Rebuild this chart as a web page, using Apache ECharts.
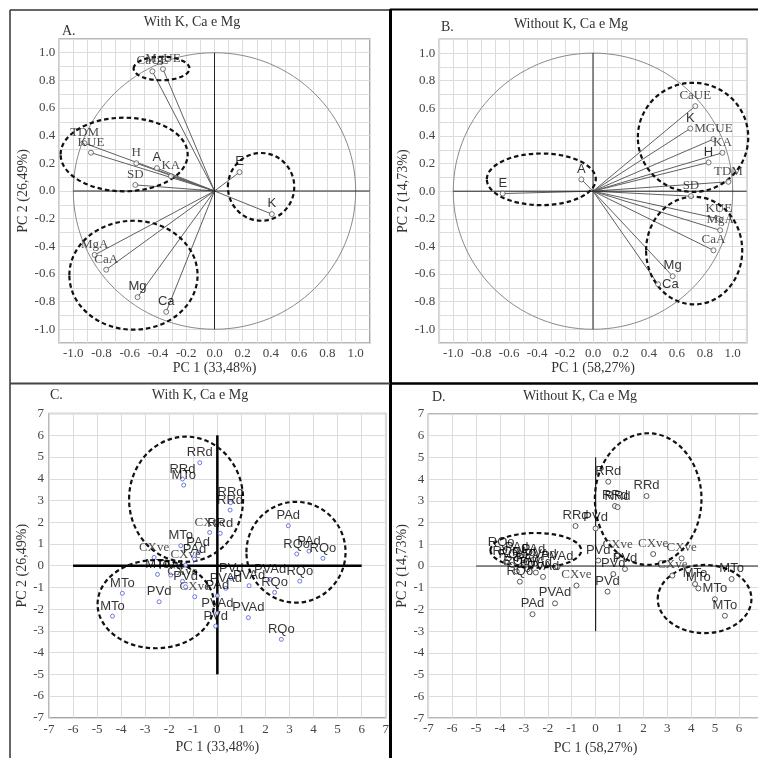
<!DOCTYPE html>
<html><head><meta charset="utf-8">
<script src="https://cdn.jsdelivr.net/npm/echarts@6/dist/echarts.min.js"></script>
<style>html,body{margin:0;padding:0;background:#fff}#c{width:758px;height:758px}</style>
</head><body><div id="c"></div>
<script>
// ---------- Panel A: loadings, with K, Ca e Mg ----------
const aNames = ['CaUE','MgUE','TDM','KUE','H','A','KA','SD','E','K','MgA','CaA','Mg','Ca'];
const aX = [-0.44,-0.365,-0.92,-0.875,-0.554,-0.408,-0.309,-0.561,0.177,0.406,-0.849,-0.767,-0.545,-0.342];
const aY = [0.865,0.882,0.345,0.277,0.201,0.165,0.107,0.044,0.136,-0.167,-0.462,-0.569,-0.768,-0.874];
// ---------- Panel B: loadings, without K, Ca e Mg ----------
const bNames = ['CaUE','K','MGUE','KA','H','TDM','SD','KUE','MgA','CaA','Mg','Ca','A','E'];
const bX = [0.732,0.696,0.862,0.926,0.827,0.969,0.701,0.9,0.91,0.862,0.57,0.466,-0.083,-0.646];
const bY = [0.616,0.454,0.377,0.278,0.208,0.068,-0.036,-0.2,-0.283,-0.428,-0.616,-0.674,0.085,-0.017];
// ---------- Panel C: scores, with K, Ca e Mg ----------
const cNames = ['RRd','RRd','RRd','RRd','RRd',
  'MTo','MTo','MTo','MTo','MTo',
  'CXve','CXve','CXve','CXve','CXve',
  'PAd','PAd','PAd','PAd','PAd',
  'PVd','PVd','PVd','PVd','PVd',
  'PVAd','PVAd','PVAd','PVAd','PVAd',
  'RQo','RQo','RQo','RQo','RQo'];
const cX = [-0.73,-1.45,0.55,0.53,0.12,
  -1.40,-1.52,-2.49,-3.95,-4.36,
  -0.32,-2.63,-1.32,-1.45,-0.94,
  -0.8,-0.95,0.0,2.95,3.81,
  -2.42,-0.07,0.58,-1.32,-1.94,
  0.35,1.32,2.19,0.0,1.29,
  3.43,2.38,2.66,3.3,4.39];
const cY = [4.74,3.99,2.90,2.56,1.49,
  3.71,0.92,-0.40,-1.27,-2.32,
  1.53,0.38,0.03,-0.72,-1.43,
  0.62,0.30,-1.38,1.84,0.67,
  -1.66,-2.78,-0.58,-0.97,-0.43,
  -1.04,-0.92,-0.63,-2.19,-2.39,
  -0.71,-1.23,-3.39,0.54,0.34];
// ---------- Panel D: scores, without K, Ca e Mg ----------
const dNames = ['RRd','RRd','RRd','RRd','RRd',
  'PVd','PVd','PVd','PVd','PVd',
  'CXve','CXve','CXve','CXve','CXve',
  'MTo','MTo','MTo','MTo','MTo',
  'PAd','PAd','PAd','PAd','PAd',
  'PVAd','PVAd','PVAd','PVAd','PVAd',
  'RQo','RQo','RQo','RQo','RQo'];
const dX = [0.53,2.13,0.81,0.92,-0.84,
  0.0,0.11,1.23,0.74,0.5,
  0.92,2.41,3.6,3.21,-0.8,
  4.16,4.3,5.69,4.99,5.41,
  -3.3,-3.0,-2.85,-2.6,-2.64,
  -2.3,-2.5,-2.2,-1.6,-1.7,
  -3.95,-3.75,-3.5,-3.3,-3.17];
const dY = [3.88,3.22,2.76,2.71,1.84,
  1.73,0.25,-0.14,-0.37,-1.18,
  0.51,0.55,0.35,-0.44,-0.9,
  -0.83,-1.03,-0.6,-1.53,-2.29,
  0.35,0.15,-0.15,0.3,-2.22,
  0.05,-0.3,-0.5,-0.05,-1.72,
  0.62,0.2,0.05,-0.25,-0.72];
// ---------- dashed group ellipses [cx, cy, rx, ry, rotation deg] ----------
const ellA = [[-0.375,0.886,0.198,0.085,0],[-0.64,0.264,0.45,0.266,0],[0.33,0.03,0.235,0.245,0],[-0.574,-0.609,0.454,0.394,0]];
const ellB = [[-0.37,0.086,0.39,0.187,0],[0.716,0.39,0.395,0.395,0],[0.724,-0.43,0.344,0.39,0]];
const ellC = [[-1.3,3.06,2.37,2.88,0],[3.27,0.62,2.06,2.32,0],[-2.56,-1.77,2.42,2.03,0]];
const ellD = [[2.2,3.08,2.23,3.03,0],[-2.5,0.72,1.9,0.8,0],[4.56,-1.52,1.96,1.57,0]];
// correlation circle
const unitCircle = [[0,0,1,1,0]];
// reference axes through origin [x1,y1,x2,y2]
const zeroA = [[-1,0,1.1,0],[0,-1,0,1]];
const zeroB = [[-1,0,1.1,0],[0,-1,0,1]];
const zeroC = [[-6,0,6,0],[0,-5,0,6]];
const zeroD = [[-5,0,7,0],[0,-3,0,5]];
// axis texts
const titles = ['With K, Ca e Mg','Without K, Ca e Mg','With K, Ca e Mg','Without K, Ca e Mg'];
const letters = ['A.','B.','C.','D.'];
const xNames = ['PC 1 (33,48%)','PC 1 (58,27%)','PC 1 (33,48%)','PC 1 (58,27%)'];
const yNames = ['PC 2 (26,49%)','PC 2 (14,73%)','PC 2 (26,49%)','PC 2 (14,73%)'];

// ---------- styling ----------
const SERIF = '"Liberation Serif","DejaVu Serif",serif';
const SANS = '"Liberation Sans",Arial,sans-serif';
const serifSets = [
  ['CaUE','MgUE','TDM','KUE','H','KA','SD','MgA','CaA'],
  ['CaUE','MGUE','KA','TDM','SD','KUE','MgA','CaA'],
  ['CXve'], ['CXve']
];
const labelPosOverride = [{}, {'Ca':'right'}, {}, {}];

const chart = echarts.init(document.getElementById('c'), null, {renderer:'canvas'});

const gridBoxes = [
  {left:59.2, top:38.9, width:310.6, height:304.2},
  {left:439.3, top:39.3, width:307.4, height:303.8},
  {left:49, top:413.6, width:336.7, height:304.2},
  {left:428.3, top:413.9, width:334.6, height:304.2}
];
const grids = gridBoxes.map(g => Object.assign({show:true, borderColor:'#a3a3a3', borderWidth:1.5,
  backgroundColor:'transparent', containLabel:false, outerBoundsMode:'none'}, g));

const axisCfg = [
  {min:-1.1,max:1.1,interval:0.1, ymin:-1.1,ymax:1.1, yint:0.1, dec:true, xGap:18, yGap:22, lm:4},
  {min:-1.1,max:1.1,interval:0.1, ymin:-1.1,ymax:1.1, yint:0.1, dec:true, xGap:17, yGap:24, lm:4},
  {min:-7,max:7,interval:1, ymin:-7,ymax:7, yint:1, dec:false, xGap:23, yGap:13, lm:5},
  {min:-7,max:7,interval:1, ymin:-7,ymax:7, yint:1, dec:false, xGap:23, yGap:19, lm:4}
];
function fmt(dec){
  return dec ? function(v){ const k=Math.round(v*10); return (k%2===0)?(k/10).toFixed(1):''; }
             : function(v){ return String(Math.round(v)); };
}
const nameStyle = {fontFamily:SERIF, fontSize:14, color:'#333'};
const labStyle = {fontFamily:SERIF, fontSize:13, color:'#444'};
const xAxes = axisCfg.map((c,i)=>({type:'value', gridIndex:i, min:c.min, max:c.max, interval:c.interval,
  name:xNames[i], nameLocation:'middle', nameGap:c.xGap, nameTextStyle:nameStyle,
  axisLine:{show:false}, axisTick:{show:false},
  axisLabel:Object.assign({formatter:fmt(c.dec), margin:c.lm, showMinLabel:true, showMaxLabel:true}, labStyle),
  splitLine:{show:true, lineStyle:{color:'#dcdcdc', width:1}}}));
const yAxes = axisCfg.map((c,i)=>({type:'value', gridIndex:i, min:c.ymin, max:c.ymax, interval:c.yint,
  name:yNames[i], nameLocation:'middle', nameGap:c.yGap, nameTextStyle:nameStyle,
  axisLine:{show:false}, axisTick:{show:false},
  axisLabel:Object.assign({formatter:fmt(c.dec), margin:c.lm, showMinLabel:true, showMaxLabel:true}, labStyle),
  splitLine:{show:true, lineStyle:{color:'#dcdcdc', width:1}}}));

function ellipseRender(style){
  return function(params, api){
    const c = api.coord([api.value(0), api.value(1)]);
    const s = api.size([api.value(2), api.value(3)]);
    return {type:'ellipse', x:c[0], y:c[1], rotation:-api.value(4)*Math.PI/180,
      shape:{cx:0, cy:0, rx:s[0], ry:s[1]}, style:Object.assign({fill:'none'}, style)};
  };
}
function segRender(style){
  return function(params, api){
    const p1 = api.coord([api.value(0), api.value(1)]);
    const p2 = api.coord([api.value(2), api.value(3)]);
    return {type:'line', shape:{x1:p1[0],y1:p1[1],x2:p2[0],y2:p2[1]}, style:Object.assign({fill:'none'}, style)};
  };
}
function vecRender(style){
  return function(params, api){
    const p1 = api.coord([0,0]);
    const p2 = api.coord([api.value(0), api.value(1)]);
    return {type:'line', shape:{x1:p1[0],y1:p1[1],x2:p2[0],y2:p2[1]}, style:Object.assign({fill:'none'}, style)};
  };
}
function custom(i, data, render, z){
  return {type:'custom', xAxisIndex:i, yAxisIndex:i, data:data, renderItem:render, silent:true, z:z||2, animation:false};
}
const dashStyle = {stroke:'#111', lineWidth:2.2, lineDash:[4.5,3]};
const panels = [
  {names:aNames, xs:aX, ys:aY, ell:ellA, zero:zeroA, circle:true, sym:5, ptBorder:'#555', serifSize:13, sansSize:13, zeroStyle:{stroke:'#222', lineWidth:1}},
  {names:bNames, xs:bX, ys:bY, ell:ellB, zero:zeroB, circle:true, sym:5, ptBorder:'#555', serifSize:13, sansSize:13, zeroStyle:{stroke:'#222', lineWidth:1}},
  {names:cNames, xs:cX, ys:cY, ell:ellC, zero:zeroC, circle:false, sym:4, ptBorder:'#4a5ad8', serifSize:13, sansSize:13, zeroStyle:{stroke:'#000', lineWidth:2.5}},
  {names:dNames, xs:dX, ys:dY, ell:ellD, zero:zeroD, circle:false, sym:5, ptBorder:'#333', serifSize:13, sansSize:13, zeroStyle:{stroke:'#222', lineWidth:1.2}}
];
const series = [];
panels.forEach((p,i)=>{
  const pts = p.names.map((n,k)=>[p.xs[k], p.ys[k]]);
  if (p.circle){
    series.push(custom(i, unitCircle, ellipseRender({stroke:'#8a8a8a', lineWidth:1}), 2));
    series.push(custom(i, pts, vecRender({stroke:'#606060', lineWidth:1}), 3));
  }
  series.push(custom(i, p.zero, segRender(p.zeroStyle), 3));
  series.push(custom(i, p.ell, ellipseRender(dashStyle), 4));
  series.push({type:'scatter', xAxisIndex:i, yAxisIndex:i, z:5, animation:false, silent:true,
    symbol:'circle', symbolSize:p.sym,
    itemStyle:{color:'#fff', borderColor:p.ptBorder, borderWidth:1},
    label:{show:true, position:'top', distance:1, formatter:'{b}'},
    labelLayout:{hideOverlap:false},
    data:p.names.map((n,k)=>{
      const serif = serifSets[i].indexOf(n) >= 0;
      return {name:n, value:[p.xs[k], p.ys[k]],
        label:{position:labelPosOverride[i][n]||'top', fontFamily:serif?SERIF:SANS,
          fontSize:serif?p.serifSize:p.sansSize, color:serif?'#222':'#000'}};
    })
  });
});

const titlePos = [[192,22.5],[571,24],[200,395],[580,396.5]];
const letterPos = [[62,31],[441,27],[50,395],[432,397]];
const graphic = [];
titles.forEach((t,i)=>{
  graphic.push({type:'text', x:titlePos[i][0], y:titlePos[i][1], silent:true,
    style:{text:t, font:'14px '+SERIF, fill:'#333', textAlign:'center', textVerticalAlign:'middle', verticalAlign:'middle'}});
  graphic.push({type:'text', x:letterPos[i][0], y:letterPos[i][1], silent:true,
    style:{text:letters[i], font:'14px '+SERIF, fill:'#333', textAlign:'left', textVerticalAlign:'middle', verticalAlign:'middle'}});
});
const borders = [
  [10,10,390,10,'#333',1.5],[390,9.5,758,9.5,'#000',2],
  [10,10,10,758,'#333',1.5],
  [390.5,9,390.5,758,'#000',3],
  [10,383.5,390,383.5,'#444',2],[390,383.5,758,383.5,'#000',2.5]
];
borders.forEach(b=>graphic.push({type:'line', silent:true, z:100,
  shape:{x1:b[0],y1:b[1],x2:b[2],y2:b[3]}, style:{stroke:b[4], lineWidth:b[5]}}));

chart.setOption({
  backgroundColor:'#fff',
  animation:false,
  grid:grids, xAxis:xAxes, yAxis:yAxes, series:series, graphic:graphic
});
</script></body></html>
